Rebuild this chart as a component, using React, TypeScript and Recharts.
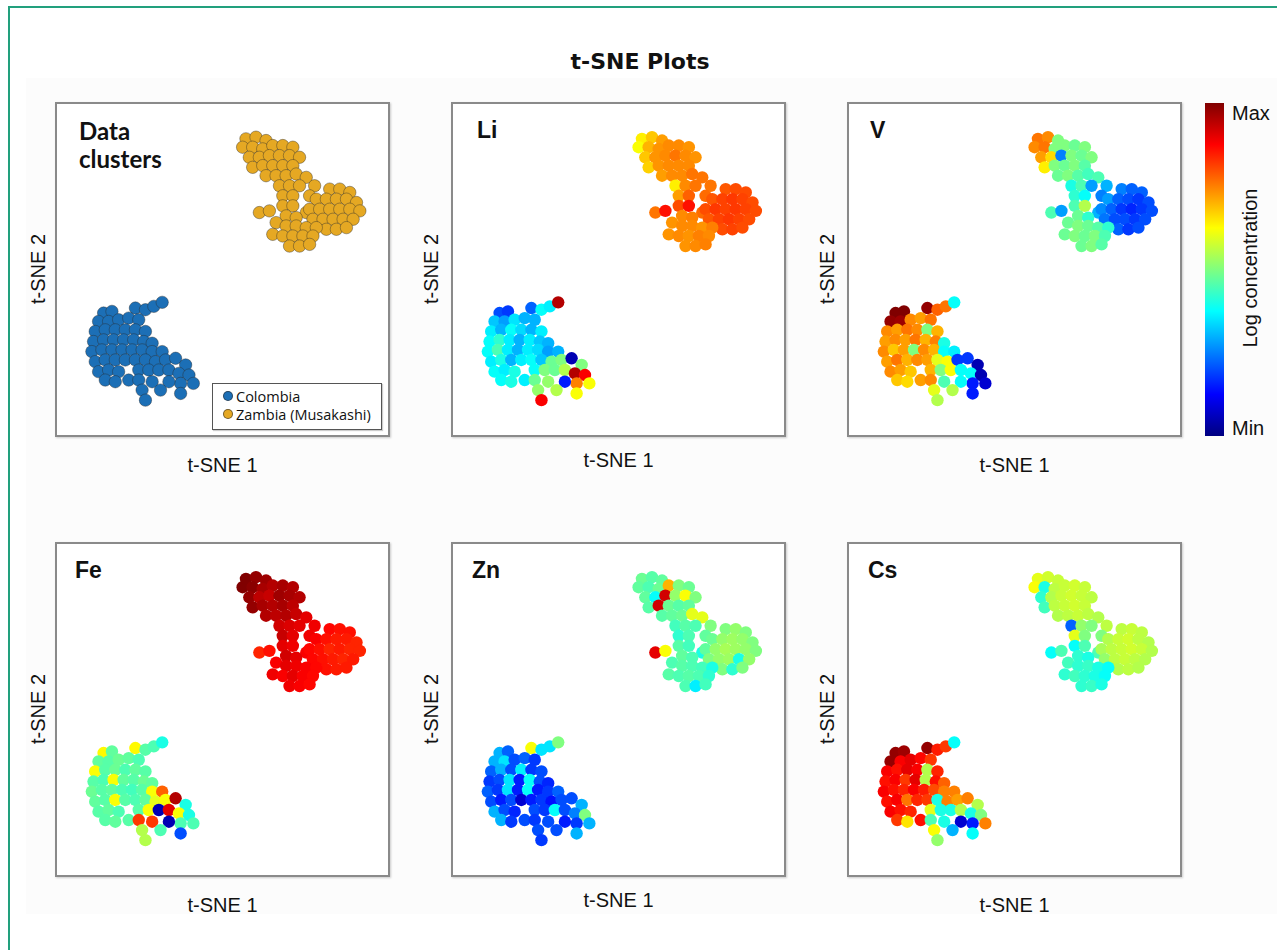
import { ScatterChart, Scatter, XAxis, YAxis } from 'recharts';

// t-SNE embedding, shared by all panels (units 0-100, t-SNE 2 counted downwards)
const zambiaX = [57, 60, 63, 56, 59, 62, 65, 68, 71, 58, 61, 64, 67, 70, 73, 59, 62, 65, 68, 71, 63, 66, 69, 72,
  75, 77.5, 67, 70, 73, 76, 68, 71, 75,
  68, 71, 69, 72,
  61, 64,
  82, 85, 88, 78, 81, 84, 87, 90, 76, 79, 82, 85, 88, 91, 77, 80, 83, 86, 89, 81, 84, 87,
  66, 69, 72, 75, 78, 65, 68, 71, 74, 77, 70, 73, 76];
const zambiaY = [11, 10.5, 11.5, 13.5, 13.5, 14, 13, 13, 13.5, 16.5, 16.5, 16, 16, 16, 16.5, 19.5, 19, 19, 19, 19, 22, 22, 22, 21.5,
  22.5, 25, 25, 25, 25, 28, 28, 28, 33,
  31, 31, 34, 34.5,
  33, 32.5,
  26, 26, 27, 29, 29, 29, 29, 30, 32, 32, 32, 32, 32, 32.5, 35, 35, 35, 35, 35, 38, 38, 37.5,
  36, 37, 37, 37.5, 37.5, 39.5, 40, 40, 40, 40, 43, 43, 42.5];

const colombiaX = [14.5, 17, 24, 27, 29.5, 32,
  13, 16, 19, 22, 25,
  12, 15, 18, 21, 24, 27,
  11.5, 14.5, 17.5, 20.5, 23.5, 26.5, 29,
  11, 14, 17, 20, 23, 26, 29, 32,
  12, 15, 18, 21, 24, 27, 30, 33,
  13, 16, 19, 25, 28, 31, 34,
  15, 18, 22, 25, 29,
  36, 39, 37, 40, 41.3, 37.5, 34, 37.5, 31.5,
  26, 27];
const colombiaY = [63, 62.5, 61.5, 62, 61, 59.8,
  65.5, 65.5, 65, 64.5, 65,
  68.5, 68, 68, 68, 68, 68.5,
  71.5, 71, 71, 71, 71, 71.5, 72,
  74.5, 74, 74, 74, 74, 74, 74.5, 74.5,
  77.5, 77, 77, 77, 77, 77, 77.5, 77,
  80.5, 80, 80.5, 80, 80, 80, 80,
  83, 83.5, 83, 83, 83.5,
  76.5, 78.5, 81, 81.5, 84, 84, 83.5, 87, 86,
  86, 89];

// log concentration, scaled 0 (Min) to 1 (Max)
const liZambia = [.64, .68, .72, .62, .7, .73, .74, .74, .73, .68, .73, .74, .76, .74, .73, .67, .73, .74, .74, .74, .72, .74, .74, .76,
  .76, .76, .64, .74, .76, .77, .72, .78, .77,
  .8, .86, .74, .75,
  .76, .86,
  .79, .8, .8, .79, .81, .82, .81, .8, .8, .82, .81, .82, .81, .8, .79, .81, .82, .81, .8, .8, .81, .8,
  .73, .74, .74, .73, .75, .73, .74, .73, .75, .74, .73, .74, .75];
const liColombia = [.2, .18, .22, .38, .36, .95,
  .32, .28, .35, .3, .3,
  .36, .3, .38, .34, .3, .36,
  .38, .42, .36, .3, .36, .32, .3,
  .38, .45, .36, .3, .36, .34, .28, .3,
  .36, .4, .3, .36, .38, .32, .48, .5,
  .38, .36, .4, .38, .5, .48, .55,
  .38, .4, .36, .48, .52,
  .05, .5, .95, .88, .62, .75, .15, .62, .55,
  .52, .88];

const vZambia = [.76, .74, .5, .74, .76, .5, .5, .48, .5, .72, .66, .25, .5, .48, .5, .64, .5, .48, .5, .46, .48, .5, .46, .44,
  .45, .3, .4, .45, .28, .25, .42, .38, .3,
  .45, .55, .48, .42,
  .45, .28,
  .25, .22, .22, .28, .22, .2, .18, .2, .26, .22, .18, .16, .18, .2, .24, .2, .2, .18, .2, .22, .18, .2,
  .48, .5, .48, .46, .42, .48, .5, .48, .5, .45, .48, .5, .46];
const vColombia = [1, 1, .98, .78, .76, .38,
  .98, .97, .74, .72, .76,
  .74, .72, .76, .74, .5, .7,
  .72, .74, .72, .76, .7, .75, .4,
  .74, .68, .72, .5, .74, .7, .38, .36,
  .72, .76, .7, .74, .72, .6, .62, .18,
  .74, .72, .68, .7, .5, .62, .38,
  .68, .66, .72, .74, .45,
  .18, .05, .38, .05, .08, .15, .38, .15, .55,
  .6, .55];

const feZambia = [1, .98, .97, 1, .99, .96, .95, .96, .95, .98, .94, .93, .97, .96, .95, .98, .96, .95, .96, .94, .95, .94, .95, .93,
  .9, .89, .92, .91, .9, .89, .93, .9, .88,
  .9, .89, .92, .9,
  .84, .86,
  .87, .86, .86, .88, .86, .85, .85, .84, .87, .86, .84, .85, .84, .84, .87, .86, .85, .84, .85, .86, .85, .85,
  .88, .9, .89, .88, .87, .89, .88, .9, .88, .87, .89, .88, .87];
const feColombia = [.63, .47, .63, .46, .45, .4,
  .47, .46, .48, .47, .45,
  .62, .46, .48, .45, .47, .46,
  .46, .45, .62, .47, .46, .48, .47,
  .48, .46, .47, .45, .44, .46, .62, .78,
  .47, .46, .62, .46, .45, .47, .6, .62,
  .46, .47, .45, .46, .62, .05, .9,
  .46, .47, .46, .82, .82,
  .95, .4, .62, .4, .45, .45, .05, .2, .45,
  .55, .55];

const znZambia = [.48, .46, .47, .47, .45, .48, .7, .5, .48, .47, .38, .92, .52, .62, .5, .46, .92, .48, .46, .47, .46, .47, .48, .6,
  .6, .5, .44, .46, .45, .47, .42, .45, .4,
  .46, .44, .47, .45,
  .9, .62,
  .5, .52, .5, .48, .52, .53, .52, .5, .47, .52, .54, .53, .52, .5, .5, .52, .53, .4, .52, .5, .42, .5,
  .45, .46, .45, .44, .4, .46, .45, .46, .45, .42, .45, .36, .44];
const znColombia = [.3, .22, .62, .35, .35, .5,
  .3, .35, .2, .22, .18,
  .22, .3, .2, .36, .18, .2,
  .18, .2, .35, .15, .38, .2, .16,
  .22, .18, .35, .15, .38, .15, .18, .22,
  .2, .15, .2, .08, .15, .18, .14, .2,
  .3, .2, .16, .2, .18, .38, .2,
  .3, .18, .2, .18, .2,
  .2, .3, .25, .5, .3, .18, .15, .3, .2,
  .2, .18];

const csZambia = [.6, .58, .57, .62, .4, .56, .57, .58, .57, .42, .55, .57, .58, .57, .56, .44, .56, .57, .58, .57, .55, .56, .57, .56,
  .55, .56, .22, .52, .5, .5, .6, .5, .45,
  .38, .45, .42, .4,
  .38, .45,
  .56, .57, .56, .55, .57, .58, .56, .55, .54, .56, .57, .58, .57, .55, .52, .56, .57, .56, .55, .55, .56, .55,
  .44, .42, .43, .4, .38, .42, .44, .42, .4, .38, .42, .43, .4];
const csColombia = [.98, .97, .98, .85, .82, .38,
  .98, .88, .9, .87, .82,
  .88, .86, .9, .88, .55, .84,
  .86, .88, .82, .9, .55, .86, .78,
  .88, .86, .84, .88, .85, .8, .75, .75,
  .86, .88, .76, .84, .82, .4, .75, .72,
  .88, .86, .84, .6, .4, .4, .55,
  .82, .65, .86, .45, .4,
  .75, .55, .4, .5, .75, .15, .08, .38, .3,
  .62, .52];

const elements = ['Li', 'V', 'Fe', 'Zn', 'Cs'];
const zambiaValues = [liZambia, vZambia, feZambia, znZambia, csZambia];
const colombiaValues = [liColombia, vColombia, feColombia, znColombia, csColombia];

const COLOMBIA = '#1c6fb6';
const ZAMBIA = '#e5a823';

function jet(v: number) {
  const c = (t: number) => Math.round(255 * Math.max(0, Math.min(1, t)));
  return `rgb(${c(1.5 - Math.abs(4 * v - 3))},${c(1.5 - Math.abs(4 * v - 2))},${c(1.5 - Math.abs(4 * v - 1))})`;
}

function points(xs: number[], ys: number[], color: (i: number) => string) {
  return xs.map((x, i) => ({ x, y: ys[i], color: color(i) }));
}

const arial = '"Liberation Sans", Arial, sans-serif';

function Panel({ left, top, label, labelLeft, colored, xLabelDy = 0, yLabelDx = 0 }: any) {
  const idx = elements.indexOf(label);
  const zam = points(zambiaX, zambiaY, (i) => (idx < 0 ? ZAMBIA : jet(zambiaValues[idx][i])));
  const col = points(colombiaX, colombiaY, (i) => (idx < 0 ? COLOMBIA : jet(colombiaValues[idx][i])));
  const stroke = colored ? undefined : 'rgba(40,40,40,0.5)';
  const dot = (p: any) => (
    <circle cx={p.cx} cy={p.cy} r={6.2} fill={p.payload.color} stroke={stroke} strokeWidth={stroke ? 0.8 : 0} />
  );
  return (
    <>
      <div style={{ position: 'absolute', left, top, width: 335, height: 335, background: '#fff' }}>
        <ScatterChart width={335} height={335} margin={{ top: 0, right: 0, bottom: 0, left: 0 }}>
          <XAxis type="number" dataKey="x" domain={[0, 100]} hide />
          <YAxis type="number" dataKey="y" domain={[0, 100]} reversed hide />
          <Scatter name="Colombia" data={col} fill={COLOMBIA} shape={dot} isAnimationActive={false} />
          <Scatter name="Zambia (Musakashi)" data={zam} fill={ZAMBIA} shape={dot} isAnimationActive={false} />
        </ScatterChart>
      </div>
      <div style={{ position: 'absolute', left, top, width: 335, height: 335, boxSizing: 'border-box',
        border: '2px solid #8a8a8a', boxShadow: '1px 1px 2px rgba(0,0,0,0.2)', pointerEvents: 'none' }} />
      {idx < 0 ? (
        <div style={{ position: 'absolute', left: left + labelLeft, top: top + 15, fontFamily: 'Lato, sans-serif',
          fontWeight: 700, fontSize: 24, lineHeight: '28px', color: '#111' }}>
          Data<br />clusters
        </div>
      ) : (
        <div style={{ position: 'absolute', left: left + labelLeft, top: top + 17, fontFamily: arial,
          fontWeight: 700, fontSize: 23, lineHeight: 1, color: '#111' }}>{label}</div>
      )}
      <div style={{ position: 'absolute', left: left + 167.5, top: top + 353 + xLabelDy, transform: 'translateX(-50%)',
        fontFamily: arial, fontSize: 20, lineHeight: '20px', whiteSpace: 'nowrap', color: '#111' }}>t-SNE 1</div>
      <div style={{ position: 'absolute', left: left - 17 + yLabelDx, top: top + 167, transform: 'translate(-50%,-50%) rotate(-90deg)',
        fontFamily: arial, fontSize: 20, lineHeight: '20px', whiteSpace: 'nowrap', color: '#111' }}>t-SNE 2</div>
    </>
  );
}

function ClusterLegend() {
  const row = (color: string, text: string) => (
    <div style={{ display: 'flex', alignItems: 'center', height: 18 }}>
      <span style={{ width: 10, height: 10, borderRadius: 5, background: color, border: '0.8px solid rgba(40,40,40,0.6)',
        boxSizing: 'border-box', marginRight: 3 }} />
      <span>{text}</span>
    </div>
  );
  return (
    <div style={{ position: 'absolute', left: 212, top: 383, width: 170, height: 47, boxSizing: 'border-box',
      border: '1.5px solid #555', background: '#fff', padding: '3px 0 0 10px', fontFamily: '"Open Sans", sans-serif',
      fontSize: 14.5, color: '#111', boxShadow: '1px 1px 1px rgba(0,0,0,0.2)' }}>
      {row(COLOMBIA, 'Colombia')}
      {row(ZAMBIA, 'Zambia (Musakashi)')}
    </div>
  );
}

function ColorBar() {
  const stops = [1, 0.875, 0.625, 0.375, 0.125, 0].map((v, i) => `${jet(v)} ${[0, 12.5, 37.5, 62.5, 87.5, 100][i]}%`);
  return (
    <>
      <div style={{ position: 'absolute', left: 1205, top: 103, width: 19, height: 333,
        background: `linear-gradient(to bottom, ${stops.join(', ')})` }} />
      <div style={{ position: 'absolute', left: 1232, top: 103, fontFamily: arial, fontSize: 20, lineHeight: 1, color: '#111' }}>Max</div>
      <div style={{ position: 'absolute', left: 1232, top: 418, fontFamily: arial, fontSize: 20, lineHeight: 1, color: '#111' }}>Min</div>
      <div style={{ position: 'absolute', left: 1250, top: 268, transform: 'translate(-50%,-50%) rotate(-90deg)',
        fontFamily: arial, fontSize: 20, lineHeight: '20px', whiteSpace: 'nowrap', color: '#111' }}>Log concentration</div>
    </>
  );
}

export default function App() {
  return (
    <div style={{ position: 'absolute', left: 0, top: 0, width: 1277, height: 950, overflow: 'hidden', background: '#fff' }}>
      <div style={{ position: 'absolute', left: 8, top: 6, width: 1400, height: 1100, borderTop: '2.5px solid #22a07d',
        borderLeft: '2.5px solid #22a07d' }} />
      <div style={{ position: 'absolute', left: 26, top: 78, width: 1260, height: 836, background: '#fcfcfc' }} />
      <div style={{ position: 'absolute', left: 640, top: 48, transform: 'translateX(-50%)', fontFamily: '"DejaVu Sans", sans-serif',
        fontWeight: 700, fontSize: 22, lineHeight: '28px', whiteSpace: 'nowrap', color: '#111' }}>t-SNE Plots</div>

      <Panel left={55} top={102} label="clusters" labelLeft={24} />
      <Panel left={451} top={102} label="Li" labelLeft={26} colored xLabelDy={-5} yLabelDx={-3} />
      <Panel left={847} top={102} label="V" labelLeft={23} colored yLabelDx={-3} />
      <Panel left={55} top={542} label="Fe" labelLeft={20} colored />
      <Panel left={451} top={542} label="Zn" labelLeft={21} colored xLabelDy={-5} yLabelDx={-3} />
      <Panel left={847} top={542} label="Cs" labelLeft={21} colored yLabelDx={-3} />

      <ClusterLegend />
      <ColorBar />
    </div>
  );
}
